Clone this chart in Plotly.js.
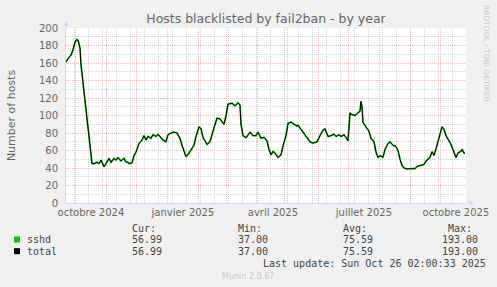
<!DOCTYPE html>
<html>
<head>
<meta charset="utf-8">
<script src="https://cdn.plot.ly/plotly-3.0.1.min.js"></script>
<style>
html,body{margin:0;padding:0;background:#f0f0f0;}
#chart{width:497px;height:287px;}
</style>
</head>
<body>
<div id="chart"></div>
<script>
// ---- data (day offset from 2024-09-21 02:00, hosts) ----
const startDate = Date.UTC(2024, 8, 21, 2, 0, 0);
const dayOffsets = [0,2,5,7,9,11,12,14,15,17,19,22,24,26,28,31,33,35,38,40,43,45,48,50,52,55,58,60,62,63,66,68,70,73,76,78,80,82,85,87,90,92,95,97,100,102,105,108,111,114,116,118,120,123,126,128,130,133,135,137,141,144,148,151,154,158,160,162,166,169,172,174,175,177,180,184,187,190,192,195,198,201,203,205,207,209,212,215,217,220,222,225,228,231,232,235,238,241,244,247,249,251,254,257,259,262,265,268,270,273,275,278,280,282,284,286,289,291,294,295,296,297,300,303,305,308,310,312,314,317,319,322,324,327,330,332,334,336,338,341,345,347,349,351,353,356,358,360,362,364,366,368,370,372,374,376,378,380,382,385,387,390,392,395,396,398,399];
const hosts = [161,165,169,175,184,187,186,177,158,139,116,89,66,45,45,46.5,45,49,41.5,45,51,46.5,51,49,52,48,51,47,46.5,45,46,54,58,68,72,77,72,76,74,78,76,78.5,74,72,70,78,80,81,80,74,66,59,53,57,62.5,66,76,87,85,75,67,70,86,97,96,90,99.5,113,114,111,114.5,112,90,77,74.5,81,77,77,81,74,75,71,61,55,59,57,52,55,65,77,91,92.5,90,88,89,84,79,75,70,68.5,69,70,77,83.4,84.8,76,77,78.7,76,78,76,78,75,71,103,101,100,102.5,105,116,110,92,87,82,74,70,58,52,54,52.5,61,68,70,66,64.5,60,50,43,40,39,39.3,39.5,39.2,41.8,42.5,44,44,48,50.5,52,58.6,54.5,62,71,80,87,84,77,73,67,61,52,57.3,59,61.5,57,57];

const monthTicks = ['2024-10-01','2024-11-01','2024-12-01','2025-01-01','2025-02-01','2025-03-01','2025-04-01','2025-05-01','2025-06-01','2025-07-01','2025-08-01','2025-09-01','2025-10-01'];
const monthLabels = ['octobre 2024','','','janvier 2025','','','avril 2025','','','juillet 2025','','','octobre 2025'];

const seriesNames = ['sshd','total'];
const seriesColors = ['#00cc00','#000000'];
const curVals = ['56.99','56.99'];
const minVals = ['37.00','37.00'];
const avgVals = ['75.59','75.59'];
const maxVals = ['193.00','193.00'];
const statHeaders = ['Cur:','Min:','Avg:','Max:'];
const lastUpdate = 'Last update: Sun Oct 26 02:00:33 2025';

// ---- build ----
function toDateStr(ms){ return new Date(ms).toISOString().slice(0,19).replace('T',' '); }
const dates = dayOffsets.map(d => toDateStr(startDate + d*86400000));
const xStart = toDateStr(startDate);
const xEnd = toDateStr(startDate + 400*86400000);

const L = 66, T = 28, W = 400, H = 175;
const px = x => (x - L) / W;
const py = y => (T + H - y) / H;

const FONT = 'DejaVu Sans';
const MONO = 'DejaVu Sans Mono';
const fc = '#666666';
const mgrid = 'rgba(235,130,130,0.55)';
const grid = 'rgba(160,160,160,0.45)';

const traces = [
  {x: dates, y: hosts, type:'scatter', mode:'lines', name: seriesNames[0], line:{color:seriesColors[0], width:1.7}},
  {x: dates, y: hosts, type:'scatter', mode:'lines', name: seriesNames[1], line:{color:seriesColors[1], width:1}}
];

const ann = [];
function txt(x, y, text, opts){
  ann.push(Object.assign({xref:'paper', yref:'paper', x:px(x), y:py(y), text:text, showarrow:false,
    xanchor:'left', yanchor:'middle', font:{family:MONO, size:10, color:'#444'}, borderpad:0}, opts||{}));
}
const colX = [131, 236.5, 342, 446.5];
statHeaders.forEach((h,i)=>txt(colX[i], 228.5, h));
const valX = [131, 236.5, 342, 440.5];
seriesNames.forEach((n,r)=>{
  const yy = 239.5 + r*11.7;
  txt(26, yy, n);
  txt(valX[0], yy, curVals[r]);
  txt(valX[1], yy, minVals[r]);
  txt(valX[2], yy, avgVals[r]);
  txt(valX[3], yy, maxVals[r]);
});
txt(261.5, 263.5, lastUpdate);
ann.push({xref:'paper', yref:'paper', x:px(248), y:py(276), text:'Munin 2.0.67', showarrow:false,
  xanchor:'center', yanchor:'middle', font:{family:FONT, size:8, color:'#c8c8c8'}});
ann.push({xref:'paper', yref:'paper', x:px(487), y:py(53), text:'RRDTOOL / TOBI OETIKER', showarrow:false,
  textangle:90, xanchor:'center', yanchor:'middle', font:{family:FONT, size:7.5, color:'#c8c8c8'}});
// axis arrows
ann.push({xref:'paper', yref:'paper', x:0, y:py(21), ax:0, ay:9, text:'', showarrow:true,
  arrowhead:2, arrowsize:1, arrowwidth:1, arrowcolor:'#cfd6f8'});
ann.push({xref:'paper', yref:'paper', x:px(474), y:0, ax:-9, ay:0, text:'', showarrow:true,
  arrowhead:2, arrowsize:1, arrowwidth:1, arrowcolor:'#cfd6f8'});

const shapes = seriesColors.map((c,r)=>({type:'rect', xref:'paper', yref:'paper',
  x0:px(14), x1:px(20), y0:py(242.5 + r*11.7), y1:py(236.5 + r*11.7),
  fillcolor:c, line:{width:0}}));

const layout = {
  width:497, height:287,
  margin:{l:L, r:497-L-W, t:T, b:287-T-H, pad:0},
  paper_bgcolor:'#f0f0f0', plot_bgcolor:'#ffffff',
  showlegend:false,
  font:{family:FONT, size:10, color:fc},
  title:{text:'Hosts blacklisted by fail2ban - by year', x:0.5, xref:'paper', xanchor:'center',
    y:1-18.5/287, yanchor:'middle', font:{family:FONT, size:12.5, color:fc}},
  xaxis:{type:'date', range:[xStart, xEnd], tickmode:'array', tickvals:monthTicks, ticktext:monthLabels,
    ticks:'', ticklabelshift:15, ticklabeloverflow:'allow', tickfont:{family:FONT, size:10, color:fc},
    showgrid:true, gridcolor:mgrid, griddash:'1px,1px', gridwidth:1,
    minor:{tick0:'2024-09-29 12:00', dtick:14*86400000, showgrid:true, gridcolor:grid, griddash:'1px,1px', gridwidth:1},
    showline:true, linecolor:'#cfd6f8', linewidth:1, zeroline:false, fixedrange:true},
  yaxis:{range:[0,200], tickmode:'linear', tick0:0, dtick:20, ticks:'', ticklabelstandoff:5,
    tickfont:{family:FONT, size:10, color:fc},
    showgrid:true, gridcolor:mgrid, griddash:'1px,1px', gridwidth:1,
    minor:{tick0:0, dtick:10, showgrid:true, gridcolor:grid, griddash:'1px,1px', gridwidth:1},
    showline:true, linecolor:'#cfd6f8', linewidth:1, zeroline:false, fixedrange:true,
    title:{text:'Number of hosts', standoff:21, font:{family:FONT, size:11, color:fc}}},
  annotations: ann,
  shapes: shapes
};

Plotly.newPlot('chart', traces, layout, {staticPlot:true, displayModeBar:false});
</script>
</body>
</html>
